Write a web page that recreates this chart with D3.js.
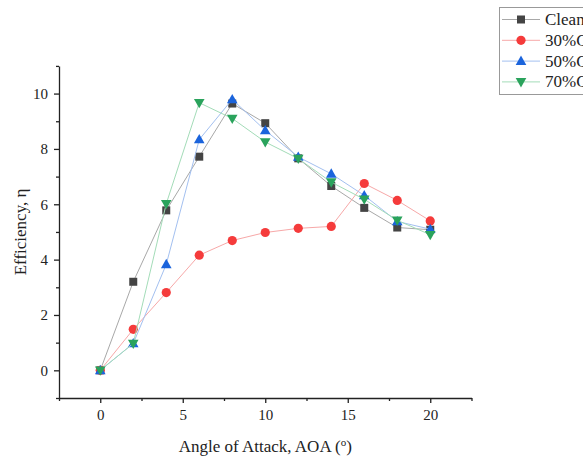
<!DOCTYPE html>
<html><head><meta charset="utf-8">
<script src="https://cdn.jsdelivr.net/npm/d3@7"></script>
<style>body{margin:0;background:#fff}svg{display:block}</style>
</head><body>
<svg id="c" width="583" height="459"></svg>
<script>
const aoa = [0, 2, 4, 6, 8, 10, 12, 14, 16, 18, 20];
const clean = [0, 3.2, 5.78, 7.72, 9.64, 8.93, 7.66, 6.66, 5.87, 5.16, 5.08];
const c30 = [0, 1.48, 2.81, 4.16, 4.69, 4.98, 5.13, 5.2, 6.75, 6.14, 5.4];
const c50 = [0, 0.97, 3.83, 8.34, 9.79, 8.67, 7.71, 7.1, 6.32, 5.38, 5.1];
const c70 = [0, 0.97, 6.02, 9.67, 9.1, 8.25, 7.65, 6.8, 6.18, 5.42, 4.9];
const seriesNames = ["Clean", "30%CNT", "50%CNT", "70%CNT"];
const xTicks = [0, 5, 10, 15, 20];
const yTicks = [0, 2, 4, 6, 8, 10];

const series = [
  {name: seriesNames[0], vals: clean, color: "#444444", line: "#a8a8a8", shape: "square"},
  {name: seriesNames[1], vals: c30, color: "#f53b3b", line: "#f7a8a8", shape: "circle"},
  {name: seriesNames[2], vals: c50, color: "#1b64dc", line: "#a3c0f0", shape: "up"},
  {name: seriesNames[3], vals: c70, color: "#2aa35c", line: "#a3dcb8", shape: "down"}
];

const svg = d3.select("#c");
const x = d3.scaleLinear().domain([-2.5, 22.5]).range([59, 471.5]);
const y = d3.scaleLinear().domain([-1, 11]).range([398, 65.9]);
const font = "'Liberation Serif','Times New Roman',serif";

// axes
const xAxis = d3.axisBottom(x).tickValues(xTicks).tickSize(5).tickPadding(6).tickSizeOuter(0);
svg.append("g").attr("transform", "translate(0,398)").call(xAxis);
svg.append("g").attr("transform", "translate(0,398)")
  .call(d3.axisBottom(x).tickValues([-2.5, 2.5, 7.5, 12.5, 17.5, 22.5]).tickSize(3).tickFormat("").tickSizeOuter(0))
  .select(".domain").remove();
const yAxis = d3.axisLeft(y).tickValues(yTicks).tickSize(5).tickPadding(6).tickSizeOuter(0);
svg.append("g").attr("transform", "translate(59,0)").call(yAxis);
svg.append("g").attr("transform", "translate(59,0)")
  .call(d3.axisLeft(y).tickValues([-1, 1, 3, 5, 7, 9, 11]).tickSize(3).tickFormat("").tickSizeOuter(0))
  .select(".domain").remove();
svg.selectAll(".domain, .tick line").attr("stroke", "#222").attr("stroke-width", 1.3);
svg.selectAll(".tick text").attr("font-family", font).attr("font-size", 15).attr("fill", "#222");

const xl = svg.append("text").attr("x", x(10)).attr("y", 452).attr("text-anchor", "middle")
  .attr("font-family", font).attr("font-size", 17).attr("fill", "#222");
xl.append("tspan").text("Angle of Attack, AOA (");
xl.append("tspan").attr("dy", -6).attr("font-size", 11).text("o");
xl.append("tspan").attr("dy", 6).text(")");
svg.append("text").attr("transform", `translate(26,${y(5)}) rotate(-90)`).attr("text-anchor", "middle")
  .attr("font-family", font).attr("font-size", 17).attr("fill", "#222").text("Efficiency, η");

function marker(g, shape, cx, cy, color) {
  if (shape === "square") {
    g.append("rect").attr("x", cx - 4).attr("y", cy - 4).attr("width", 8).attr("height", 8).attr("fill", color);
  } else if (shape === "circle") {
    g.append("circle").attr("cx", cx).attr("cy", cy).attr("r", 4.6).attr("fill", color);
  } else if (shape === "up") {
    g.append("path").attr("d", `M${cx},${cy - 5.5}L${cx + 5.3},${cy + 3.8}L${cx - 5.3},${cy + 3.8}Z`).attr("fill", color);
  } else {
    g.append("path").attr("d", `M${cx},${cy + 5.5}L${cx + 5.3},${cy - 3.8}L${cx - 5.3},${cy - 3.8}Z`).attr("fill", color);
  }
}

const line = d3.line().x((d, i) => x(aoa[i])).y(d => y(d));
series.forEach(s => {
  const g = svg.append("g");
  g.append("path").attr("d", line(s.vals)).attr("fill", "none").attr("stroke", s.line).attr("stroke-width", 1);
  s.vals.forEach((v, i) => marker(g, s.shape, x(aoa[i]), y(v), s.color));
});

// legend
const lg = svg.append("g");
lg.append("rect").attr("x", 499.5).attr("y", 7.5).attr("width", 100).attr("height", 87)
  .attr("fill", "#fff").attr("stroke", "#999").attr("stroke-width", 1);
series.forEach((s, i) => {
  const ly = 19.5 + i * 20.8;
  lg.append("line").attr("x1", 502).attr("x2", 540).attr("y1", ly).attr("y2", ly).attr("stroke", s.line).attr("stroke-width", 1);
  marker(lg, s.shape, 521, ly, s.color);
  lg.append("text").attr("x", 545).attr("y", ly + 5.5).attr("font-family", font).attr("font-size", 17)
    .attr("fill", "#222").text(s.name);
});
</script>
</body></html>
